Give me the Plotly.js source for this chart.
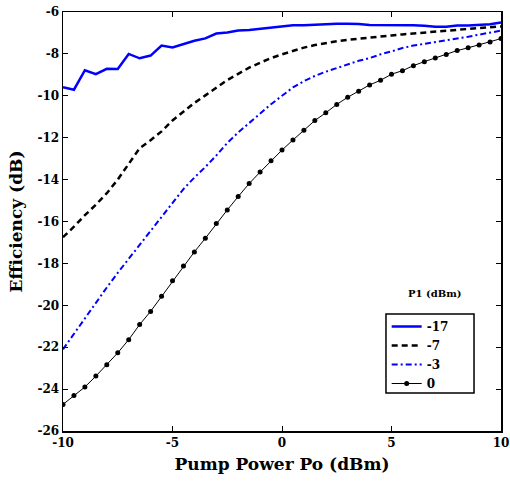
<!DOCTYPE html>
<html>
<head>
<meta charset="utf-8">
<script src="https://cdn.plot.ly/plotly-3.0.1.min.js"></script>
<style>html,body{margin:0;padding:0;background:#fff;}#chart{width:510px;height:481px;}</style>
</head>
<body>
<div id="chart"></div>
<script>
const pumpPower = [-10,-9.5,-9,-8.5,-8,-7.5,-7,-6.5,-6,-5.5,-5,-4.5,-4,-3.5,-3,-2.5,-2,-1.5,-1,-0.5,0,0.5,1,1.5,2,2.5,3,3.5,4,4.5,5,5.5,6,6.5,7,7.5,8,8.5,9,9.5,10];
const seriesNames = ['-17','-7','-3','0'];
const effP1m17 = [-9.59,-9.71,-8.78,-8.97,-8.71,-8.72,-8.0,-8.21,-8.08,-7.6,-7.69,-7.52,-7.37,-7.26,-7.03,-6.98,-6.88,-6.86,-6.8,-6.74,-6.67,-6.63,-6.63,-6.6,-6.56,-6.56,-6.56,-6.57,-6.62,-6.62,-6.62,-6.63,-6.63,-6.66,-6.7,-6.7,-6.65,-6.65,-6.63,-6.58,-6.5];
const effP1m7 = [-16.75,-16.25,-15.7,-15.2,-14.65,-14.0,-13.25,-12.5,-12.12,-11.7,-11.18,-10.75,-10.34,-9.98,-9.62,-9.25,-8.95,-8.66,-8.42,-8.2,-8.02,-7.86,-7.7,-7.58,-7.48,-7.4,-7.33,-7.27,-7.22,-7.17,-7.12,-7.07,-7.02,-6.97,-6.93,-6.88,-6.85,-6.81,-6.77,-6.73,-6.69];
const effP1m3 = [-22.1,-21.35,-20.6,-19.9,-19.15,-18.45,-17.78,-17.1,-16.45,-15.8,-15.1,-14.45,-13.9,-13.4,-12.85,-12.25,-11.75,-11.3,-10.82,-10.4,-10.0,-9.6,-9.3,-9.05,-8.85,-8.68,-8.5,-8.33,-8.2,-8.02,-7.88,-7.72,-7.6,-7.52,-7.45,-7.35,-7.26,-7.18,-7.08,-6.98,-6.89];
const effP1z = [-24.73,-24.3,-23.9,-23.38,-22.84,-22.27,-21.64,-20.92,-20.29,-19.57,-18.83,-18.13,-17.45,-16.8,-16.1,-15.45,-14.81,-14.19,-13.64,-13.1,-12.59,-12.11,-11.65,-11.18,-10.81,-10.41,-10.07,-9.78,-9.48,-9.26,-8.97,-8.8,-8.56,-8.37,-8.19,-8.03,-7.84,-7.71,-7.57,-7.43,-7.27];
const xTicks = [-10,-5,0,5,10];
const yTicks = [-26,-24,-22,-20,-18,-16,-14,-12,-10,-8,-6];

const FONT = 'DejaVu Serif';
const traces = [
  {x: pumpPower, y: effP1m17, name: seriesNames[0], mode: 'lines', line: {color: '#0000ff', width: 2.5}},
  {x: pumpPower, y: effP1m7, name: seriesNames[1], mode: 'lines', line: {color: '#000000', width: 2.5, dash: '6px,4px'}},
  {x: pumpPower, y: effP1m3, name: seriesNames[2], mode: 'lines', line: {color: '#0000ff', width: 2, dash: '6px,3px,2px,3px'}},
  {x: pumpPower, y: effP1z, name: seriesNames[3], mode: 'lines+markers', line: {color: '#000000', width: 1}, marker: {color: '#000000', size: 5}}
];
const axisCommon = {
  showgrid: false, zeroline: false, showline: true, linecolor: '#000', linewidth: 1.5,
  mirror: 'ticks', ticks: 'inside', ticklen: 5, tickwidth: 1, tickcolor: '#000',
  tickfont: {family: FONT, size: 12, color: '#000', weight: 'bold'}
};
const layout = {
  width: 510, height: 481,
  margin: {l: 63, r: 9, t: 12, b: 50},
  paper_bgcolor: '#fff', plot_bgcolor: '#fff',
  showlegend: true,
  font: {family: FONT},
  xaxis: Object.assign({}, axisCommon, {
    range: [-10, 10], tickvals: xTicks, ticktext: xTicks.map(String),
    title: {text: 'Pump Power Po (dBm)', font: {family: FONT, size: 17, color: '#000', weight: 'bold'}, standoff: 9}
  }),
  yaxis: Object.assign({}, axisCommon, {
    range: [-26, -6], tickvals: yTicks, ticktext: yTicks.map(String),
    title: {text: 'Efficiency (dB)', font: {family: FONT, size: 17, color: '#000', weight: 'bold'}, standoff: 10}
  }),
  legend: {
    x: 0.739, y: 0.284, xanchor: 'left', yanchor: 'top',
    bgcolor: 'rgba(0,0,0,0)', borderwidth: 0,
    font: {family: FONT, size: 12, color: '#000', weight: 'bold'},
    itemwidth: 30, tracegroupgap: 0
  },
  shapes: [{
    type: 'rect', xref: 'paper', yref: 'paper',
    x0: 0.7374, x1: 0.9384, y0: 0.0907, y1: 0.2792,
    line: {color: '#000', width: 1.5}, fillcolor: '#fff', layer: 'above'
  }],
  annotations: [{
    text: 'P1 (dBm)', xref: 'paper', yref: 'paper', x: 0.849, y: 0.329,
    xanchor: 'center', yanchor: 'middle', showarrow: false,
    font: {family: FONT, size: 10, color: '#000', weight: 'bold'}
  }]
};
Plotly.newPlot('chart', traces, layout, {displayModeBar: false, staticPlot: true});
</script>
</body>
</html>
